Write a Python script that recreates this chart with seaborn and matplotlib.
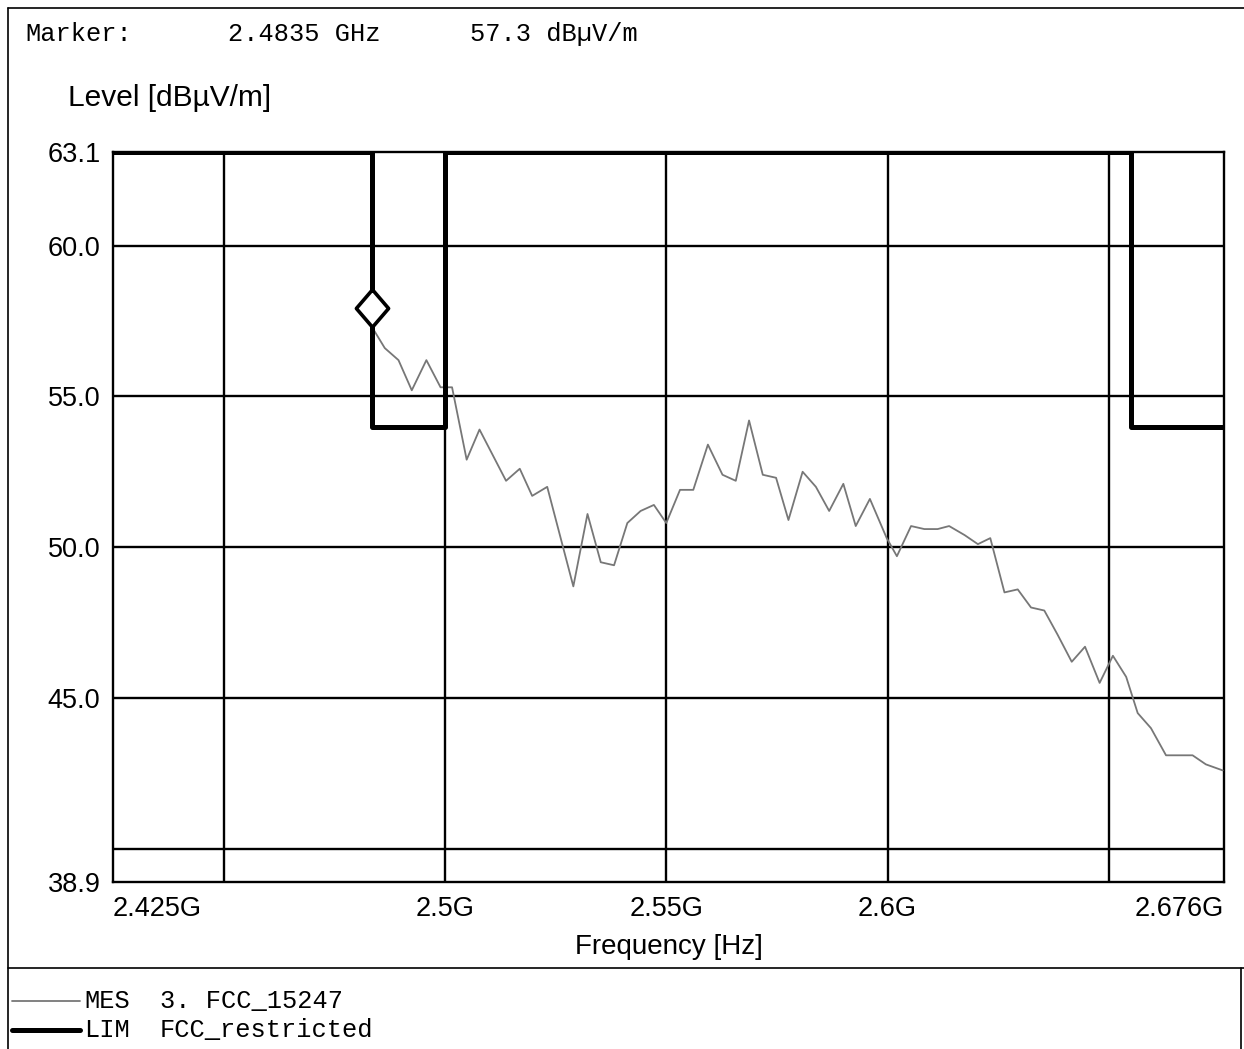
import numpy as np
import pandas as pd
import matplotlib
matplotlib.use("Agg")
import matplotlib.pyplot as plt
import matplotlib.transforms as mtrans
from matplotlib.lines import Line2D
import seaborn as sns

mes_freq = [2.4835, 2.4864, 2.4895, 2.4925, 2.4958, 2.4990, 2.5016, 2.5049, 2.5078,
            2.5138, 2.5169, 2.5197, 2.5231, 2.5290, 2.5322, 2.5352, 2.5382, 2.5412,
            2.5442, 2.5472, 2.5500, 2.5531, 2.5561, 2.5594, 2.5627, 2.5657, 2.5687,
            2.5718, 2.5748, 2.5776, 2.5808, 2.5838, 2.5868, 2.5900, 2.5928, 2.5960,
            2.5998, 2.6021, 2.6053, 2.6083, 2.6113, 2.6139, 2.6174, 2.6204, 2.6232,
            2.6264, 2.6294, 2.6324, 2.6354, 2.6384, 2.6416, 2.6446, 2.6479, 2.6509,
            2.6539, 2.6565, 2.6595, 2.6629, 2.6659, 2.6689, 2.6719, 2.6757]
mes_level = [57.3, 56.6, 56.2, 55.2, 56.2, 55.3, 55.3, 52.9, 53.9,
             52.2, 52.6, 51.7, 52.0, 48.7, 51.1, 49.5, 49.4, 50.8,
             51.2, 51.4, 50.8, 51.9, 51.9, 53.4, 52.4, 52.2, 54.2,
             52.4, 52.3, 50.9, 52.5, 52.0, 51.2, 52.1, 50.7, 51.6,
             50.3, 49.7, 50.7, 50.6, 50.6, 50.7, 50.4, 50.1, 50.3,
             48.5, 48.6, 48.0, 47.9, 47.1, 46.2, 46.7, 45.5, 46.4,
             45.7, 44.5, 44.0, 43.1, 43.1, 43.1, 42.8, 42.6]

# FCC restricted band limit (off-scale outside restricted bands -> top edge)
lim_freq = [2.425, 2.4835, 2.4835, 2.5, 2.5, 2.655, 2.655, 2.676]
lim_level = [63.1, 63.1, 54.0, 54.0, 63.1, 63.1, 54.0, 54.0]

marker_freq = 2.4835
marker_level = 57.3

x_ticks = [2.425, 2.5, 2.55, 2.6, 2.676]
x_labels = ["2.425G", "2.5G", "2.55G", "2.6G", "2.676G"]
x_grid = [2.45, 2.5, 2.55, 2.6, 2.65]
y_ticks = [38.9, 45.0, 50.0, 55.0, 60.0, 63.1]
y_labels = ["38.9", "45.0", "50.0", "55.0", "60.0", "63.1"]
y_grid = [40.0, 45.0, 50.0, 55.0, 60.0]

sns.set_style("white")
plt.rcParams["font.family"] = ["Liberation Sans", "DejaVu Sans"]
plt.rcParams["text.color"] = "black"
plt.rcParams["axes.labelcolor"] = "black"
mono = ["Liberation Mono", "DejaVu Sans Mono"]

W, H = 1244, 1049
fig = plt.figure(figsize=(W / 100, H / 100), dpi=100)
ax = fig.add_axes([113 / W, 1 - 882 / H, (1224 - 113) / W, (882 - 152) / H])

# grid
for g in x_grid:
    ax.axvline(g, color="black", lw=1.7, zorder=1)
for g in y_grid:
    ax.axhline(g, color="black", lw=1.7, zorder=1)

mes = pd.DataFrame({"freq": mes_freq, "level": mes_level})
lim = pd.DataFrame({"freq": lim_freq, "level": lim_level})
sns.lineplot(data=mes, x="freq", y="level", ax=ax, color="#777777", lw=1.3,
             estimator=None, sort=False, zorder=3)
sns.lineplot(data=lim, x="freq", y="level", ax=ax, color="black", lw=3.6,
             estimator=None, sort=False, zorder=4)

# marker diamond sits just above the marked point
diamond = [(0, 1), (0.86, 0), (0, -1), (-0.86, 0), (0, 1)]
off = mtrans.offset_copy(ax.transData, fig=fig, x=0, y=14, units="points")
ax.plot([marker_freq], [marker_level], marker=diamond, ms=27, mfc="white",
        mec="black", mew=2.6, transform=off, zorder=5, clip_on=False)

ax.set_xlim(2.425, 2.676)
ax.set_ylim(38.9, 63.1)
ax.set_xticks(x_ticks)
ax.set_xticklabels(x_labels)
ax.set_yticks(y_ticks)
ax.set_yticklabels(y_labels)
ax.tick_params(length=0, labelsize=19.5, colors="black")
ax.tick_params(axis="x", pad=10)
ax.tick_params(axis="y", pad=9)
xl = ax.get_xticklabels()
xl[0].set_horizontalalignment("left")
xl[-1].set_horizontalalignment("right")
for s in ax.spines.values():
    s.set_color("black")
    s.set_linewidth(1.7)
ax.set_xlabel("Frequency [Hz]", fontsize=20, labelpad=9)
ax.set_ylabel("")

# header / labels
fig.text(25 / W, 1 - 34 / H, "Marker:", family=mono, fontsize=18.3, va="center")
fig.text(228 / W, 1 - 34 / H, "2.4835 GHz", family=mono, fontsize=18.3, va="center")
fig.text(470 / W, 1 - 34 / H, "57.3 dBµV/m", family=mono, fontsize=18.3, va="center")
fig.text(68 / W, 1 - 98 / H, "Level [dBµV/m]", fontsize=21.5, va="center")

# frame lines
def fline(x0, y0, x1, y1, lw=1.2):
    fig.add_artist(Line2D([x0 / W, x1 / W], [1 - y0 / H, 1 - y1 / H],
                          color="black", lw=lw))

fline(8, 8, 1244, 8)
fline(8, 8, 8, 1049)
fline(8, 968, 1244, 968)
fline(1241, 968, 1241, 1049)

# legend at bottom
fig.add_artist(Line2D([12 / W, 80 / W], [1 - 1001 / H] * 2, color="#777777", lw=1.3))
fig.add_artist(Line2D([12 / W, 80 / W], [1 - 1030 / H] * 2, color="black", lw=3.6))
fig.text(84 / W, 1 - 1001 / H, "MES", family=mono, fontsize=18.3, va="center")
fig.text(160 / W, 1 - 1001 / H, "3. FCC_15247", family=mono, fontsize=18.3, va="center")
fig.text(84 / W, 1 - 1030 / H, "LIM", family=mono, fontsize=18.3, va="center")
fig.text(160 / W, 1 - 1030 / H, "FCC_restricted", family=mono, fontsize=18.3, va="center")

fig.savefig("out.png", dpi=100, facecolor="white")
